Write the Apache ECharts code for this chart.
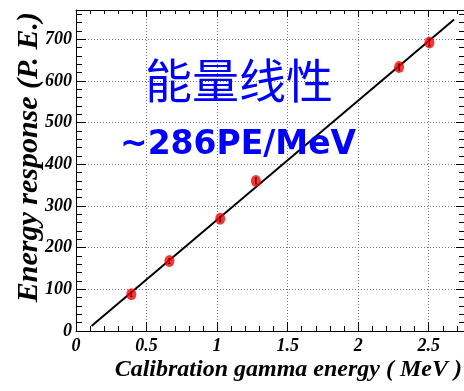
<!DOCTYPE html>
<html>
<head>
<meta charset="utf-8">
<script src="https://cdn.jsdelivr.net/npm/echarts@6/dist/echarts.min.js"></script>
<style>
  html, body { margin: 0; padding: 0; background: #fff; }
  #chart { width: 464px; height: 391px; }
</style>
</head>
<body>
<div id="chart"></div>
<script>
// Calibration source gamma energies (MeV) and measured response (P.E.)
var gammaEnergy = [0.392, 0.662, 1.022, 1.275, 2.29, 2.505];
var response = [88, 168, 269, 360, 633, 692];
var responseErr = [5, 6, 6, 7, 7, 8];

// Linear fit end points
var fitX = [0.11, 2.68];
var fitY = [12, 747];

var xTickLabels = ['0', '0.5', '1', '1.5', '2', '2.5'];
var yTickLabels = ['0', '100', '200', '300', '400', '500', '600', '700'];

var titleText = '能量线性';
var slopeText = '~286PE/MeV';
var xTitle = 'Calibration gamma energy ( MeV )';
var yTitle = 'Energy response (P. E.)';

var X_MIN = 0, X_MAX = 2.75, Y_MIN = 0, Y_MAX = 770;

var chart = echarts.init(document.getElementById('chart'), null, { renderer: 'canvas' });

var labelFont = {
  fontFamily: 'Liberation Serif',
  fontStyle: 'italic',
  fontWeight: 'bold',
  fontSize: 18,
  color: '#000'
};

function majorAxis(pos, interval, tickLen, withLabels, labels) {
  var isX = pos === 'bottom' || pos === 'top';
  return {
    type: 'value',
    position: pos,
    min: isX ? X_MIN : Y_MIN,
    max: isX ? X_MAX : Y_MAX,
    interval: interval,
    axisLine: { show: true, onZero: false, lineStyle: { color: '#000', width: 1 } },
    axisTick: { show: true, inside: true, length: tickLen, lineStyle: { color: '#000', width: 1 } },
    axisLabel: withLabels ? Object.assign({
      show: true,
      margin: pos === 'left' ? 4 : 6,
      showMaxLabel: false,
      formatter: function (v) {
        var s = String(+v.toFixed(2));
        return labels.indexOf(s) >= 0 ? s : '';
      }
    }, labelFont) : { show: false },
    splitLine: withLabels ? {
      show: true,
      lineStyle: { color: '#777', width: 1, type: [1, 2] }
    } : { show: false }
  };
}

function minorAxis(pos, interval, tickLen) {
  var isX = pos === 'bottom' || pos === 'top';
  return {
    type: 'value',
    position: pos,
    min: isX ? X_MIN : Y_MIN,
    max: isX ? X_MAX : Y_MAX,
    interval: interval,
    axisLine: { show: false, onZero: false },
    axisTick: { show: true, inside: true, length: tickLen, lineStyle: { color: '#000', width: 1 } },
    axisLabel: { show: false },
    splitLine: { show: false }
  };
}

var option = {
  backgroundColor: '#fff',
  animation: false,
  grid: { left: 76, right: 0, top: 10, bottom: 60, containLabel: false },
  xAxis: [
    majorAxis('bottom', 0.5, 9, true, xTickLabels),
    minorAxis('bottom', 0.1, 5),
    majorAxis('top', 0.5, 7, false),
    minorAxis('top', 0.1, 4)
  ],
  yAxis: [
    majorAxis('left', 100, 10, true, yTickLabels),
    minorAxis('left', 20, 6),
    majorAxis('right', 100, 8, false),
    minorAxis('right', 20, 5)
  ],
  series: [
    {
      type: 'line',
      xAxisIndex: 0, yAxisIndex: 0,
      data: fitX.map(function (x, i) { return [x, fitY[i]]; }),
      showSymbol: false,
      symbol: 'none',
      lineStyle: { color: '#000', width: 2 },
      z: 2
    },
    {
      type: 'scatter',
      xAxisIndex: 0, yAxisIndex: 0,
      data: gammaEnergy.map(function (x, i) { return [x, response[i]]; }),
      symbol: 'circle',
      symbolSize: [10, 12],
      itemStyle: { color: '#ff0000' },
      z: 3
    },
    {
      type: 'custom',
      xAxisIndex: 0, yAxisIndex: 0,
      data: gammaEnergy.map(function (x, i) { return [x, response[i], responseErr[i]]; }),
      renderItem: function (params, api) {
        var x = api.value(0), y = api.value(1), e = api.value(2);
        var top = api.coord([x, y + e]);
        var bot = api.coord([x, y - e]);
        return {
          type: 'group',
          children: [
            { type: 'line', shape: { x1: top[0], y1: top[1], x2: bot[0], y2: bot[1] }, style: { stroke: '#000', lineWidth: 1 } },
            { type: 'line', shape: { x1: top[0] - 1, y1: top[1], x2: top[0] + 1, y2: top[1] }, style: { stroke: '#000', lineWidth: 1 } },
            { type: 'line', shape: { x1: bot[0] - 1, y1: bot[1], x2: bot[0] + 1, y2: bot[1] }, style: { stroke: '#000', lineWidth: 1 } }
          ]
        };
      },
      z: 4
    }
  ],
  graphic: [
    {
      type: 'text',
      x: 239, y: 80,
      style: {
        text: titleText,
        fill: '#0000ff',
        font: 'normal 47px "Noto Sans CJK SC"',
        align: 'center',
        verticalAlign: 'middle'
      },
      z: 10
    },
    {
      type: 'text',
      x: 120, y: 145,
      style: {
        text: slopeText,
        fill: '#0000ff',
        font: 'bold 33px "DejaVu Sans"',
        align: 'left',
        verticalAlign: 'middle'
      },
      z: 10
    },
    {
      type: 'text',
      x: 462, y: 370,
      style: {
        text: xTitle,
        fill: '#000',
        font: 'italic bold 24px "Liberation Serif"',
        align: 'right',
        verticalAlign: 'middle'
      },
      z: 10
    },
    {
      type: 'text',
      x: 29, y: 12,
      rotation: Math.PI / 2,
      style: {
        text: yTitle,
        fill: '#000',
        font: 'italic bold 30px "Liberation Serif"',
        align: 'right',
        verticalAlign: 'middle'
      },
      z: 10
    }
  ]
};

chart.setOption(option);
</script>
</body>
</html>
